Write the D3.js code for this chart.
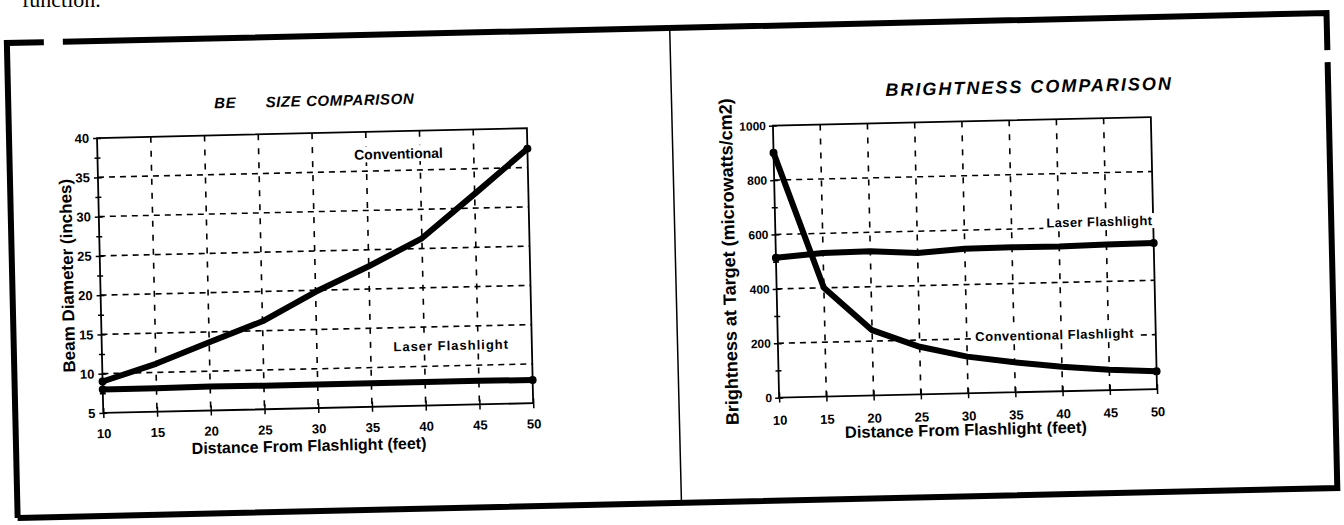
<!DOCTYPE html>
<meta charset="utf-8">
<style>
body { margin: 0; background: #fff; }
svg { display: block; }
text {
    font-family: "Liberation Sans", Arial, sans-serif;
    font-weight: bold;
    fill: #000;
}
.title {
    font-style: italic;
}
.grid line {
    stroke: #000;
    stroke-width: 1.6;
    stroke-dasharray: 6, 5;
}
.frame {
    fill: none;
    stroke: #000;
    stroke-width: 1.8;
}
.series {
    fill: none;
    stroke: #000;
    stroke-width: 6;
    stroke-linejoin: round;
    stroke-linecap: round;
}
.axis line { stroke: #000; stroke-width: 1.5; }
.axis text { font-size: 13px; }
</style>
<svg width="1344" height="525"></svg>
<script src="https://d3js.org/d3.v7.min.js"></script>
<script>
// values
var distance = [10, 15, 20, 25, 30, 35, 40, 45, 50];
var beamConventional = [9, 11.1, 13.7, 16.2, 19.8, 22.9, 26.3, 31.8, 37.4];
var beamLaser = [8, 8, 8.05, 8, 8, 8, 8, 8, 7.95];
var brightLaser = [514, 528, 530, 520, 532, 533, 532, 535, 537];
var brightConventional = [900, 400, 240, 175, 135, 110, 90, 75, 65];
var beamTicks = [5, 10, 15, 20, 25, 30, 35, 40];
var beamMinor = [7.5, 12.5, 17.5, 22.5, 27.5, 32.5, 37.5];
var brightTicks = [0, 200, 400, 600, 800, 1000];
var brightMinor = [100, 300, 500, 700, 900];

var svg = d3.select("svg");

// scrap of the page text above the figure
svg.append("text")
    .attr("x", 22).attr("y", 7)
    .style("font-family", "Liberation Serif, serif")
    .style("font-weight", "normal")
    .style("font-size", "22px")
    .text("function.");

// the scan is a little tilted
var root = svg.append("g")
    .attr("transform", "rotate(-1.3 672 262)");

// outer frame, with the breaks seen in the scan
root.append("path")
    .attr("d", "M12,503 L12,28 L49,28 M68,28 L1332,28 L1332,65 M1332,77 L1332,503 L12,503")
    .attr("fill", "none")
    .attr("stroke", "#000")
    .attr("stroke-width", 6);
root.append("line")
    .attr("x1", 675).attr("x2", 676)
    .attr("y1", 28).attr("y2", 503)
    .attr("stroke", "#000").attr("stroke-width", 1.5);

function panel(cfg) {
    var g = root.append("g");
    var x = d3.scaleLinear().domain([10, 50]).range([cfg.left, cfg.right]);
    var y = d3.scaleLinear().domain([cfg.ticks[0], cfg.ticks[cfg.ticks.length - 1]])
        .range([cfg.bottom, cfg.top]);

    var grid = g.append("g").attr("class", "grid");
    grid.selectAll(".v")
        .data(distance.slice(1, -1))
        .enter().append("line")
        .attr("x1", function(d) { return x(d); })
        .attr("x2", function(d) { return x(d); })
        .attr("y1", cfg.top).attr("y2", cfg.bottom)
        .style("stroke-dasharray", "6,8");
    grid.selectAll(".h")
        .data(cfg.ticks.slice(1, -1))
        .enter().append("line")
        .attr("x1", cfg.left).attr("x2", cfg.right)
        .attr("y1", function(d) { return y(d); })
        .attr("y2", function(d) { return y(d); });

    g.append("rect")
        .attr("class", "frame")
        .attr("x", cfg.left).attr("y", cfg.top)
        .attr("width", cfg.right - cfg.left)
        .attr("height", cfg.bottom - cfg.top);

    // axes with ticks crossing the line
    var xa = g.append("g")
        .attr("class", "axis")
        .attr("transform", "translate(0," + cfg.bottom + ")")
        .call(d3.axisBottom(x).tickValues(distance).tickSize(5).tickPadding(cfg.xPad));
    xa.selectAll(".tick line").attr("y1", -5);

    var ya = g.append("g")
        .attr("class", "axis")
        .attr("transform", "translate(" + cfg.left + ",0)")
        .call(d3.axisLeft(y).tickValues(cfg.ticks).tickFormat(d3.format("d"))
            .tickSize(4).tickPadding(cfg.yPad));
    ya.selectAll(".tick line").attr("x1", 4);
    ya.selectAll("text").style("font-size", cfg.ySize + "px");
    var ym = g.append("g")
        .attr("class", "axis")
        .attr("transform", "translate(" + cfg.left + ",0)")
        .call(d3.axisLeft(y).tickValues(cfg.minor).tickSize(3).tickFormat(""));
    ym.selectAll(".tick line").attr("x1", 3);
    g.selectAll(".domain").remove();

    // labels sitting on the grid get a white patch
    cfg.labels.forEach(function(l) {
        var t = g.append("text")
            .attr("x", x(l.x)).attr("y", y(l.y))
            .attr("text-anchor", "middle")
            .style("font-size", l.size + "px")
            .style("letter-spacing", l.ls + "px")
            .text(l.text);
        var b = t.node().getBBox();
        g.insert("rect", function() { return t.node(); })
            .attr("x", b.x - 3).attr("y", b.y)
            .attr("width", b.width + 6).attr("height", b.height)
            .attr("fill", "#fff");
    });

    var line = d3.line()
        .x(function(d, i) { return x(distance[i]); })
        .y(function(d) { return y(d); });
    cfg.series.forEach(function(s) {
        g.append("path").attr("class", "series").attr("d", line(s));
        g.selectAll(null)
            .data([0, s.length - 1])
            .enter().append("circle")
            .attr("cx", function(i) { return x(distance[i]); })
            .attr("cy", function(i) { return y(s[i]); })
            .attr("r", 4);
    });

    g.append("text")
        .attr("x", cfg.xTitle[0]).attr("y", cfg.xTitle[1])
        .attr("text-anchor", "middle")
        .style("font-size", cfg.xTitleSize + "px")
        .text("Distance From Flashlight (feet)");
    g.append("text")
        .attr("transform", "translate(" + cfg.yTitle[0] + "," + cfg.yTitle[1] + ") rotate(-90)")
        .attr("text-anchor", "middle")
        .style("font-size", cfg.yTitleSize + "px")
        .text(cfg.yLabel);

    var title = g.append("text")
        .attr("class", "title")
        .attr("x", cfg.titlePos[0]).attr("y", cfg.titlePos[1])
        .attr("text-anchor", "middle")
        .style("font-size", cfg.titleSize + "px")
        .style("letter-spacing", cfg.titleLs + "px");
    cfg.title.forEach(function(p) {
        title.append("tspan").attr("fill", p.faded ? "#fff" : "#000").text(p.t);
    });
}

panel({
    left: 100, right: 530, top: 125, bottom: 400,
    ticks: beamTicks, minor: beamMinor, xPad: 11, yPad: 4, ySize: 13,
    series: [beamConventional, beamLaser],
    labels: [
        {text: "Conventional", x: 38, y: 36.5, size: 14, ls: 0},
        {text: "Laser Flashlight", x: 42.5, y: 12, size: 13, ls: 1}
    ],
    xTitle: [305, 443], xTitleSize: 16,
    yTitle: [73, 262], yTitleSize: 17,
    yLabel: "Beam Diameter (inches)",
    title: [{t: "BE"}, {t: "AM", faded: true}, {t: " SIZE COMPARISON"}],
    titleSize: 15, titleLs: 0.6,
    titlePos: [318, 98]
});

panel({
    left: 776, right: 1154, top: 128, bottom: 400,
    ticks: brightTicks, minor: brightMinor, xPad: 13, yPad: 3, ySize: 12,
    series: [brightLaser, brightConventional],
    labels: [
        {text: "Laser Flashlight", x: 44.3, y: 603, size: 13, ls: 0.4},
        {text: "Conventional Flashlight", x: 39.3, y: 191, size: 13, ls: 0.5}
    ],
    xTitle: [962, 442], xTitleSize: 16.5,
    yTitle: [735, 263], yTitleSize: 18,
    yLabel: "Brightness at Target (microwatts/cm2)",
    title: [{t: "BRIGHTNESS COMPARISON"}],
    titleSize: 18, titleLs: 2,
    titlePos: [1033, 101]
});
</script>
